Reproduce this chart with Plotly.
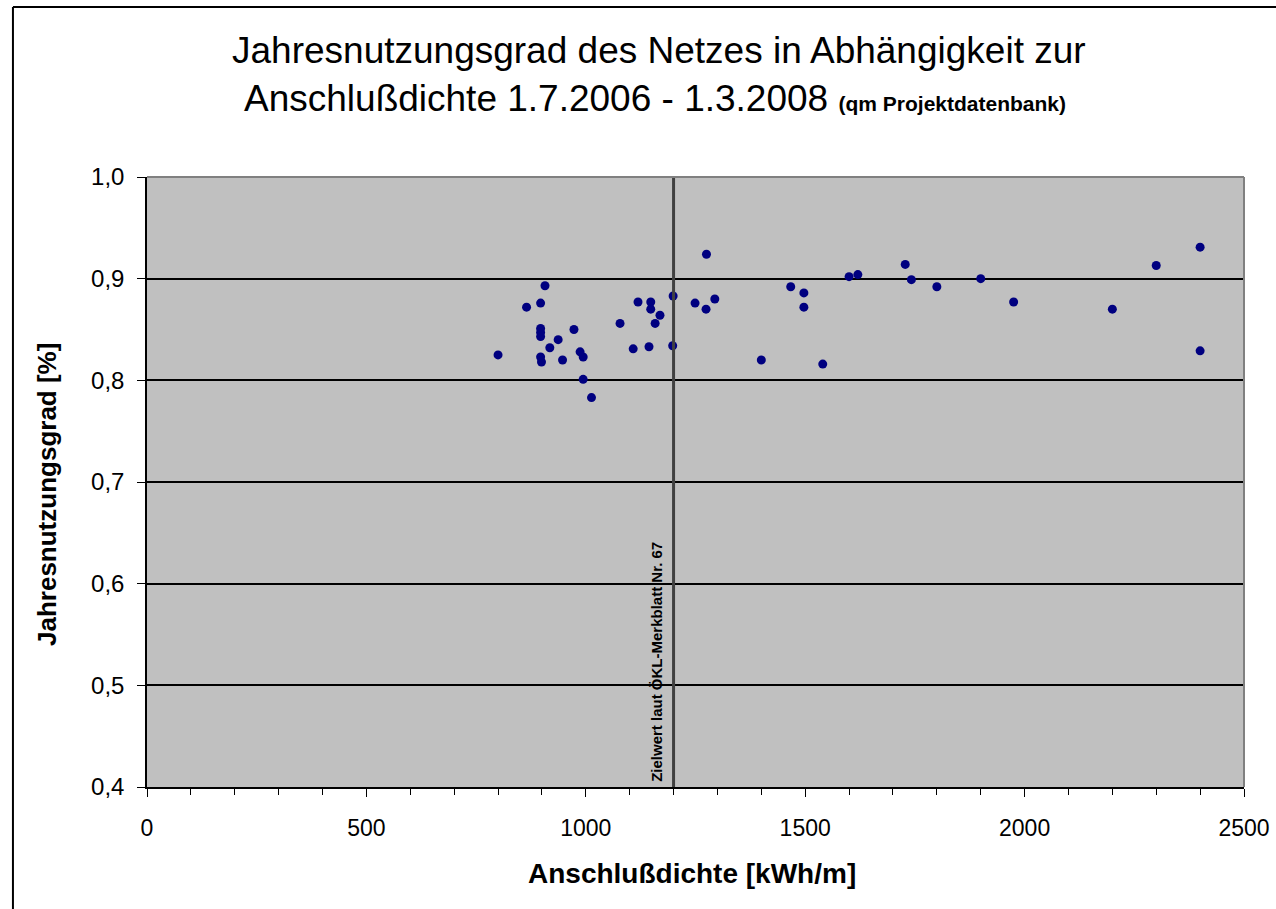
import plotly.graph_objects as go

# Data
anschlussdichte = [800, 865, 907, 897, 897, 897, 897, 897, 899, 918, 937, 947, 973, 987, 994, 994,
                   1013, 1078, 1108, 1119, 1148, 1148, 1169, 1158, 1144, 1199, 1198, 1249, 1275,
                   1274, 1294, 1400, 1467, 1497, 1497, 1540, 1600, 1620, 1728, 1742, 1800, 1900,
                   1975, 2200, 2300, 2400, 2400]
jahresnutzungsgrad = [0.825, 0.872, 0.893, 0.876, 0.851, 0.847, 0.843, 0.823, 0.818, 0.832, 0.840,
                      0.820, 0.850, 0.828, 0.823, 0.801, 0.783, 0.856, 0.831, 0.877, 0.877, 0.870,
                      0.864, 0.856, 0.833, 0.883, 0.834, 0.876, 0.924, 0.870, 0.880, 0.820, 0.892,
                      0.886, 0.872, 0.816, 0.902, 0.904, 0.914, 0.899, 0.892, 0.900, 0.877, 0.870,
                      0.913, 0.931, 0.829]
zielwert_x = 1200
y_ticks = [0.4, 0.5, 0.6, 0.7, 0.8, 0.9, 1.0]
x_ticks = [0, 500, 1000, 1500, 2000, 2500]

FONT = "Liberation Sans, Arial, sans-serif"

fig = go.Figure()
fig.add_trace(go.Scatter(
    x=anschlussdichte, y=jahresnutzungsgrad, mode="markers",
    marker=dict(color="#000080", size=9, symbol="circle"),
    showlegend=False, hoverinfo="x+y"))

# Zielwert vertical line
fig.add_trace(go.Scatter(
    x=[zielwert_x, zielwert_x], y=[0.4, 1.0], mode="lines",
    line=dict(color="#404040", width=3), showlegend=False, hoverinfo="skip"))

fig.update_layout(
    width=1276, height=909,
    margin=dict(l=147, r=32, t=177, b=122, autoexpand=False),
    paper_bgcolor="white", plot_bgcolor="#C0C0C0",
    font=dict(family=FONT, color="black"),
    separators=",.",
    xaxis=dict(range=[0, 2500], tickvals=x_ticks, showgrid=False, zeroline=False,
               automargin=False,
               showline=True, linecolor="black", linewidth=1.5,
               ticks="outside", ticklen=8, tickcolor="black", tickwidth=1,
               ticklabelstandoff=12, tickfont=dict(size=23, family=FONT),
               minor=dict(dtick=100, ticks="outside", ticklen=6, tickcolor="black", tickwidth=1)),
    yaxis=dict(range=[0.4, 1.0], tickvals=y_ticks, tickformat=".1f",
               automargin=False,
               showgrid=True, gridcolor="black", gridwidth=1.5, zeroline=False,
               showline=True, linecolor="black", linewidth=1.5,
               ticks="outside", ticklen=8, tickcolor="black", tickwidth=1,
               ticklabelstandoff=8, tickfont=dict(size=24, family=FONT)),
)

# plot area grey border (top/right)
fig.add_shape(type="line", xref="paper", yref="paper", x0=0, x1=1, y0=1, y1=1,
              line=dict(color="#808080", width=2))
fig.add_shape(type="line", xref="paper", yref="paper", x0=1, x1=1, y0=0, y1=1,
              line=dict(color="#808080", width=2))
# outer chart frame (top and left)
fig.add_shape(type="line", xref="paper", yref="paper", x0=-0.1222, x1=1.06, y0=1.2787, y1=1.2787,
              line=dict(color="black", width=2))
fig.add_shape(type="line", xref="paper", yref="paper", x0=-0.1222, x1=-0.1222, y0=-0.25, y1=1.2787,
              line=dict(color="black", width=2))

# Titles
fig.add_annotation(xref="paper", yref="paper", x=0.4667, y=1.208, xanchor="center", yanchor="middle",
                   text="Jahresnutzungsgrad des Netzes in Abhängigkeit zur", showarrow=False,
                   font=dict(size=37, family=FONT))
fig.add_annotation(xref="paper", yref="paper", x=0.463, y=1.1295, xanchor="center", yanchor="middle",
                   text="Anschlußdichte 1.7.2006 - 1.3.2008 <span style='font-size:21px'><b>(qm Projektdatenbank)</b></span>",
                   showarrow=False, font=dict(size=37, family=FONT))
fig.add_annotation(xref="paper", yref="paper", x=0.497, y=-0.141, xanchor="center", yanchor="middle",
                   text="<b>Anschlußdichte [kWh/m]</b>", showarrow=False,
                   font=dict(size=28, family=FONT))
fig.add_annotation(xref="paper", yref="paper", x=-0.091, y=0.479, xanchor="center", yanchor="middle",
                   text="<b>Jahresnutzungsgrad [%]</b>", textangle=-90, showarrow=False,
                   font=dict(size=26, family=FONT))
fig.add_annotation(xref="x", yref="y", x=1162, y=0.403, xanchor="center", yanchor="bottom",
                   text="<b>Zielwert laut ÖKL-Merkblatt Nr. 67</b>", textangle=-90, showarrow=False,
                   font=dict(size=15, family=FONT))

fig.write_html("out.html", config={"displayModeBar": False},
               post_script="document.body.style.margin='0px';")
